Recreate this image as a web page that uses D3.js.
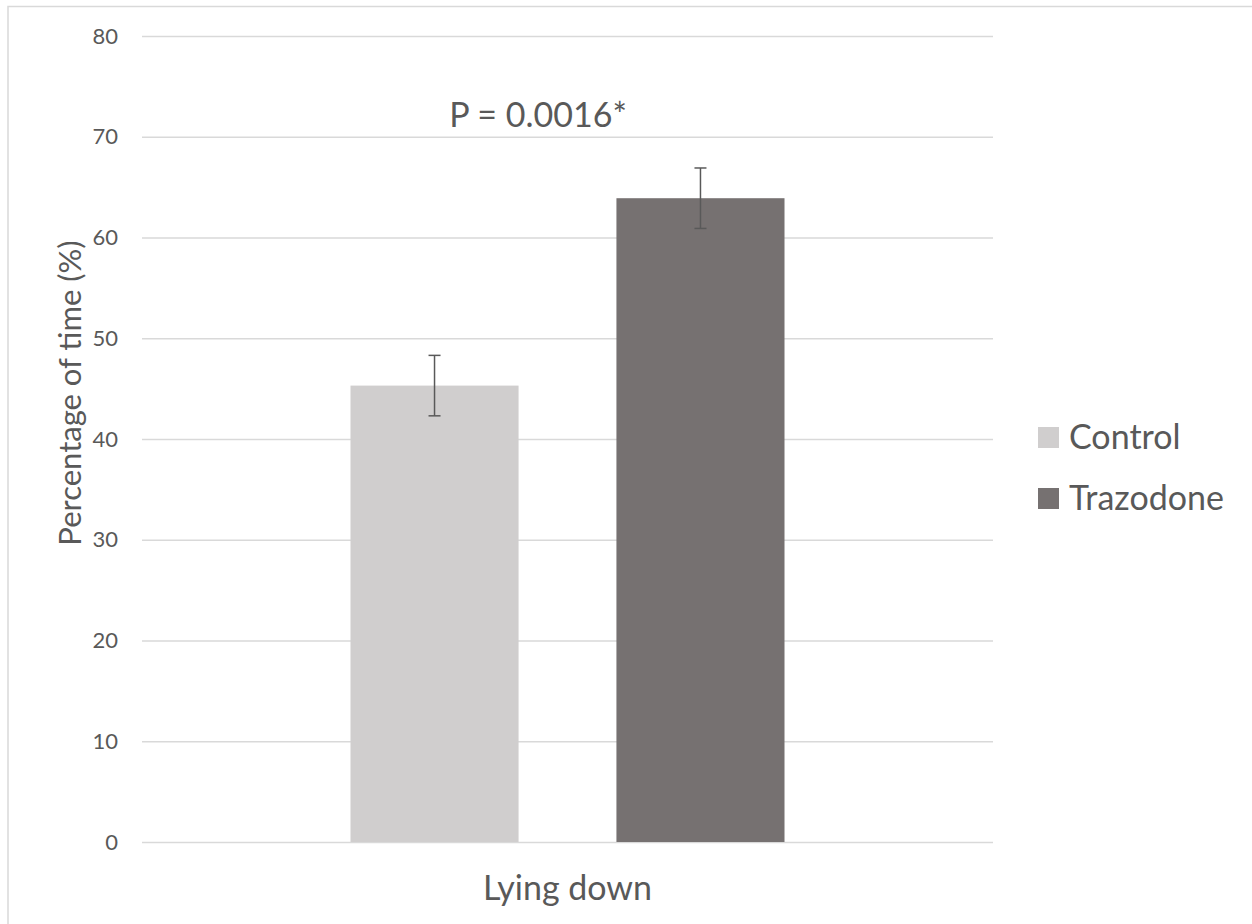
<!DOCTYPE html>
<html>
<head>
<meta charset="utf-8">
<script src="https://cdn.jsdelivr.net/npm/d3@7"></script>
<style>
  html, body { margin: 0; padding: 0; background: #fff; }
  svg { display: block; font-family: Lato, "Open Sans", sans-serif; }
</style>
</head>
<body>
<svg id="chart" width="1252" height="924"></svg>
<script>
const categories = ['Lying down'];
const seriesNames = ['Control', 'Trazodone'];
const seriesColors = ['#D0CECE', '#767171'];
const means = [45.3, 63.9];
const errors = [3.0, 3.0];
const yTicks = [0, 10, 20, 30, 40, 50, 60, 70, 80];
const annotation = 'P = 0.0016*';

const MARGINS = { top: 36, bottom: 82, left: 142, right: 259 };
const W = 1252, H = 924;
const chartWidth = W - MARGINS.left - MARGINS.right;
const chartHeight = H - MARGINS.top - MARGINS.bottom;
const textColor = '#595959';

const svg = d3.select('#chart');

// chart border (only top and left edges show in the frame)
svg.append('rect')
  .attr('x', 8).attr('y', 6.5)
  .attr('width', W + 20).attr('height', H + 20)
  .attr('fill', 'none').attr('stroke', '#D9D9D9').attr('stroke-width', 1.5);

const scaleY = d3.scaleLinear().domain([0, 80]).range([MARGINS.top + chartHeight, MARGINS.top]);
const scaleX0 = d3.scaleBand().domain(categories).range([MARGINS.left, MARGINS.left + chartWidth]);
const scaleX1 = d3.scaleBand().domain(seriesNames)
  .range([0, scaleX0.bandwidth()])
  .paddingInner(0.368)
  .paddingOuter(0.784);

// gridlines + y labels
const axisY = svg.append('g')
  .attr('transform', `translate(${MARGINS.left}, 0)`)
  .call(d3.axisLeft(scaleY).tickValues(yTicks).tickSize(-chartWidth).tickPadding(24));
axisY.select('.domain').remove();
axisY.selectAll('line').attr('stroke', '#D9D9D9').attr('stroke-width', 1.5);
axisY.selectAll('text').attr('fill', textColor).attr('font-size', 22)
  .attr('font-family', 'Lato, sans-serif');

// bars
const rows = seriesNames.map((s, i) => ({ name: s, color: seriesColors[i], mean: means[i], err: errors[i] }));
const group = svg.append('g').attr('class', 'bars')
  .attr('transform', `translate(${scaleX0(categories[0])}, 0)`);

group.selectAll('rect')
  .data(rows)
  .join('rect')
  .attr('x', d => scaleX1(d.name))
  .attr('y', d => scaleY(d.mean))
  .attr('width', scaleX1.bandwidth())
  .attr('height', d => scaleY(0) - scaleY(d.mean))
  .attr('fill', d => d.color);

// error bars
const errG = group.selectAll('g.err').data(rows).join('g').attr('class', 'err')
  .attr('stroke', textColor).attr('stroke-width', 1.5);
const cx = d => scaleX1(d.name) + scaleX1.bandwidth() / 2;
errG.append('line')
  .attr('x1', cx).attr('x2', cx)
  .attr('y1', d => scaleY(d.mean + d.err)).attr('y2', d => scaleY(d.mean - d.err));
errG.append('line')
  .attr('x1', d => cx(d) - 6).attr('x2', d => cx(d) + 6)
  .attr('y1', d => scaleY(d.mean + d.err)).attr('y2', d => scaleY(d.mean + d.err));
errG.append('line')
  .attr('x1', d => cx(d) - 6).attr('x2', d => cx(d) + 6)
  .attr('y1', d => scaleY(d.mean - d.err)).attr('y2', d => scaleY(d.mean - d.err));

// category label
svg.append('text')
  .attr('x', scaleX0(categories[0]) + scaleX0.bandwidth() / 2)
  .attr('y', 900)
  .attr('text-anchor', 'middle')
  .attr('font-size', 34)
  .attr('fill', textColor)
  .text(categories[0]);

// annotation
svg.append('text')
  .attr('x', 538)
  .attr('y', 127)
  .attr('text-anchor', 'middle')
  .attr('font-size', 34)
  .attr('fill', textColor)
  .text(annotation);

// y axis title
svg.append('text')
  .attr('transform', 'translate(81, 393) rotate(-90)')
  .attr('text-anchor', 'middle')
  .attr('font-size', 31)
  .attr('fill', textColor)
  .text('Percentage of time (%)');

// legend
const legend = svg.append('g').attr('class', 'legend')
  .attr('transform', 'translate(1038, 427)');
const item = legend.selectAll('g').data(rows).join('g')
  .attr('transform', (d, i) => `translate(0, ${i * 61})`);
item.append('rect').attr('width', 21).attr('height', 21).attr('fill', d => d.color);
item.append('text')
  .attr('x', 31).attr('y', 22)
  .attr('font-size', 34)
  .attr('fill', textColor)
  .text(d => d.name);
</script>
</body>
</html>
